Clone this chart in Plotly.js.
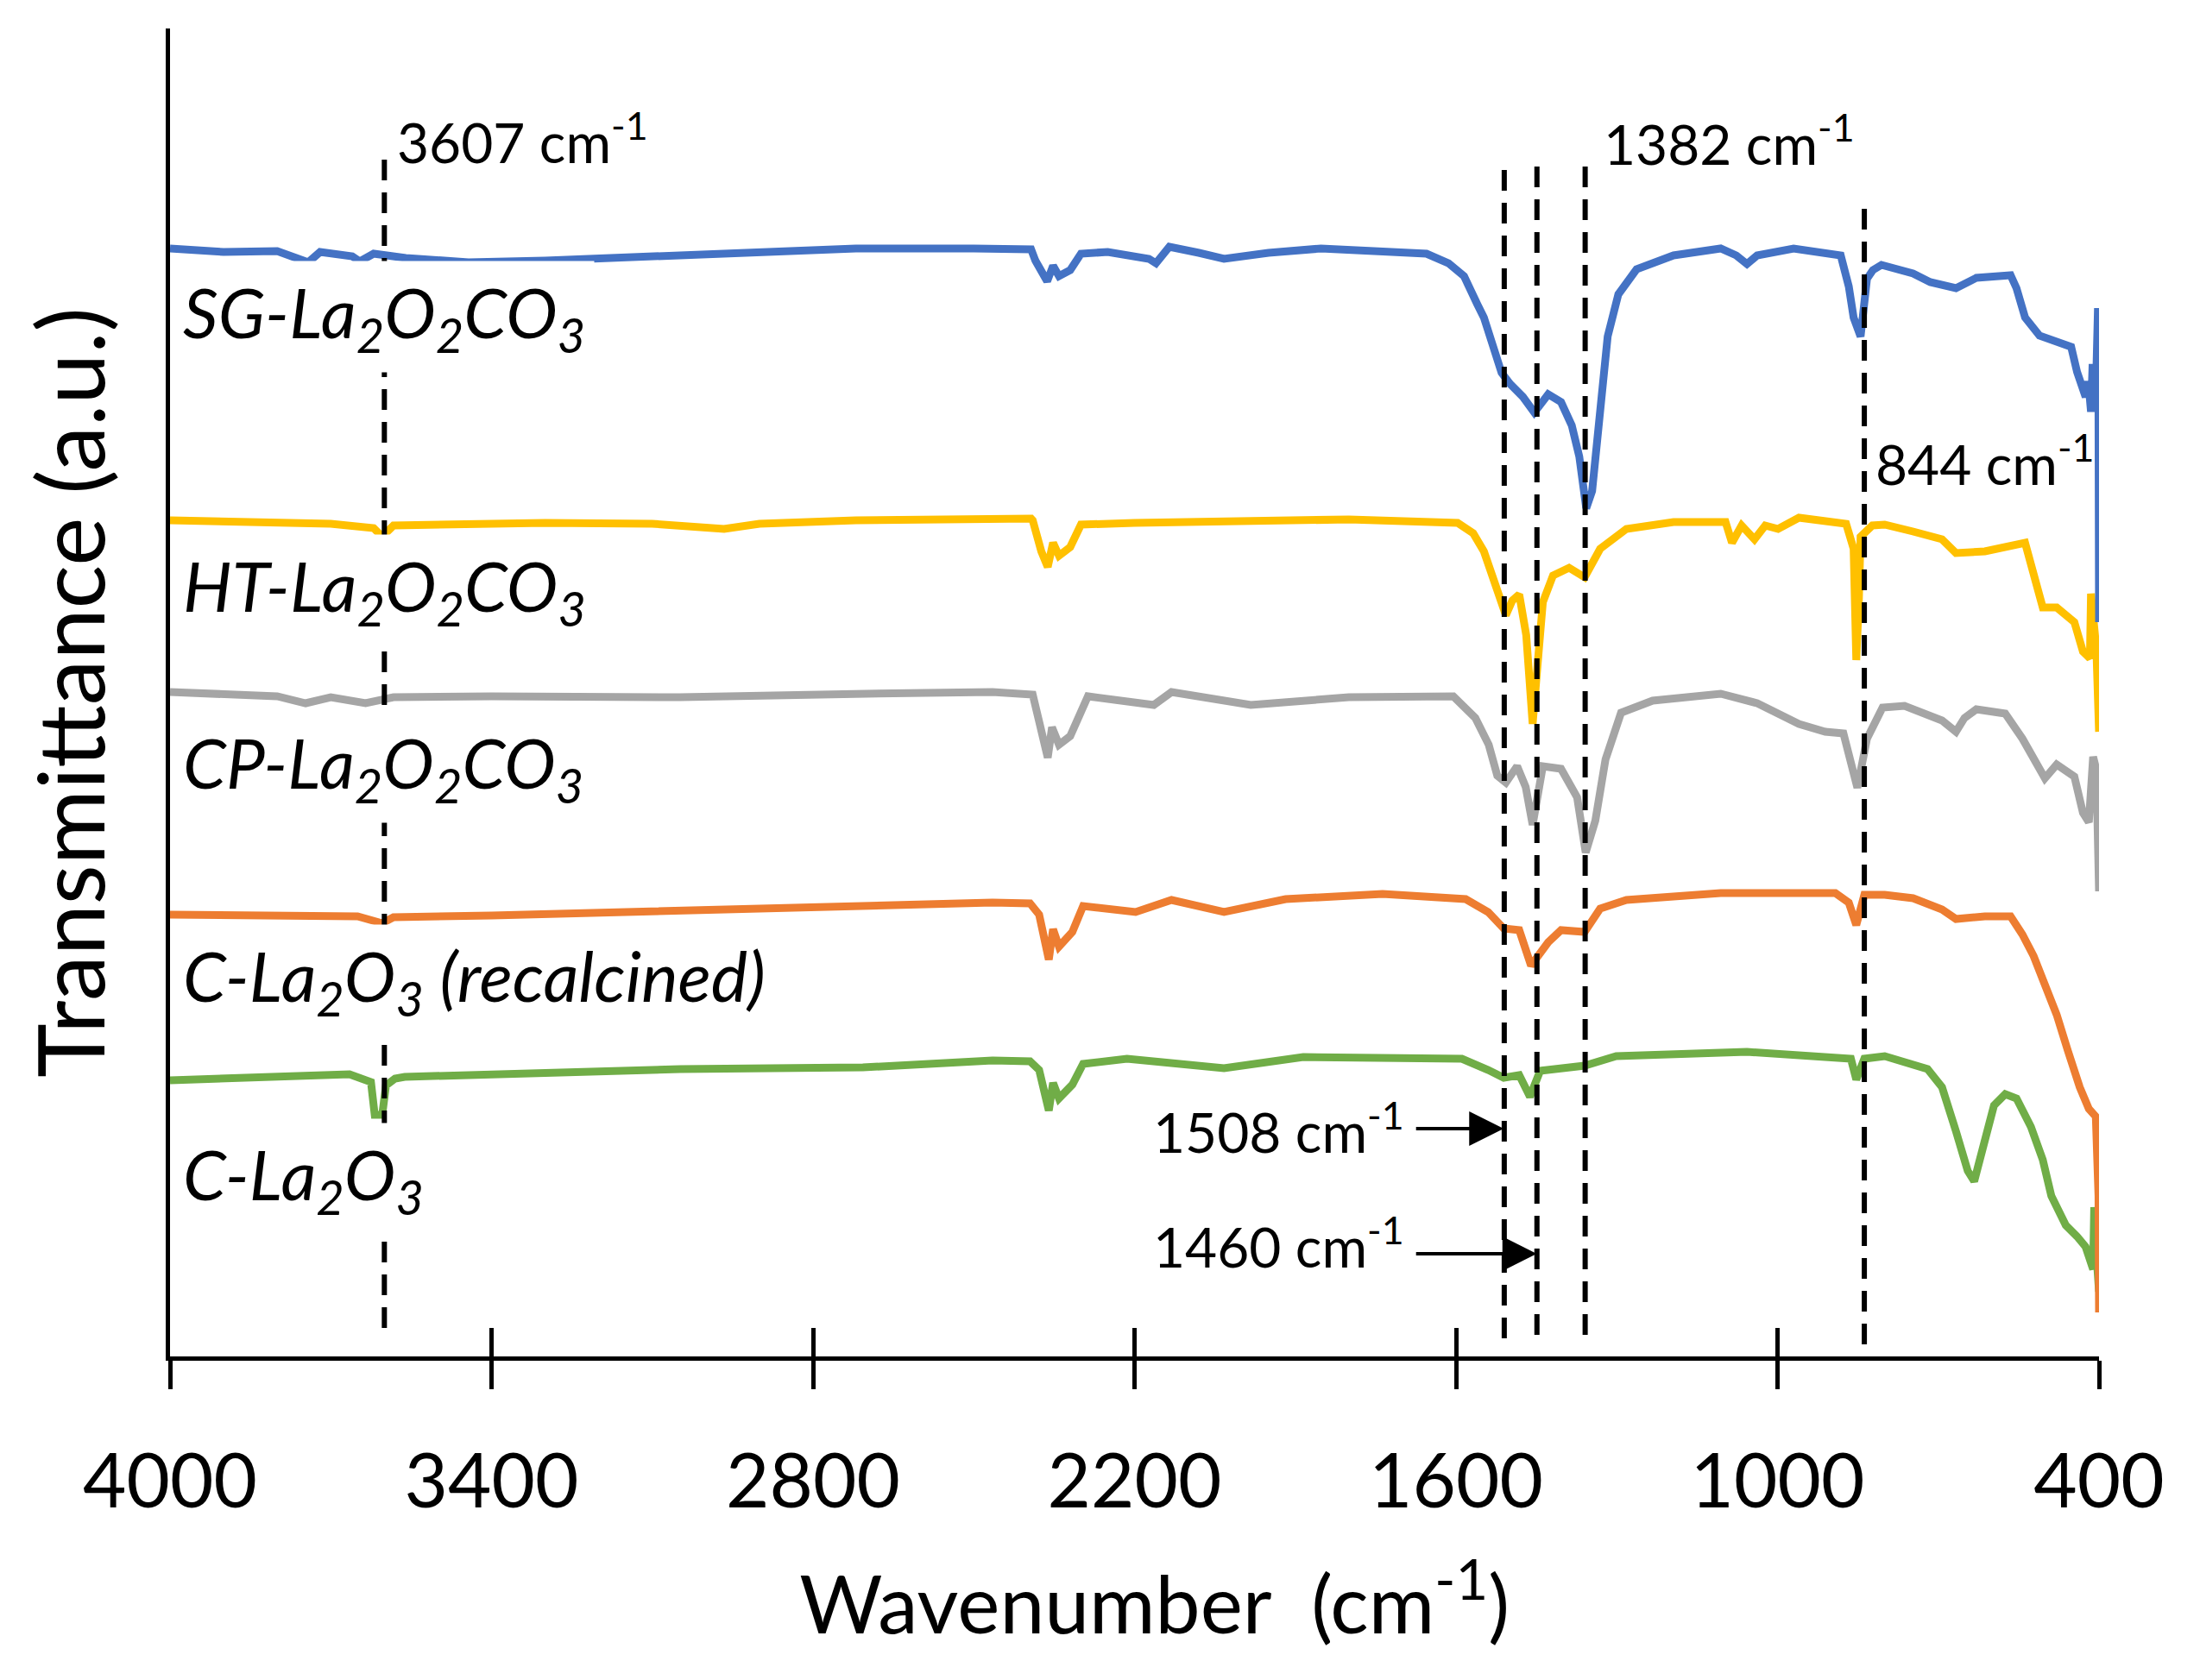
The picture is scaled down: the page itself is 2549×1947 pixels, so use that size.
<!DOCTYPE html>
<html>
<head>
<meta charset="utf-8">
<script src="https://cdn.plot.ly/plotly-3.0.1.min.js"></script>
<style>
  html, body { margin: 0; padding: 0; background: #fff; }
  #chart { width: 2549px; height: 1947px; }
</style>
</head>
<body>
<div id="chart"></div>
<script>
// FTIR spectra, transmittance in arbitrary units (stacked)

const sgWn = [4000, 3900, 3800, 3742, 3720, 3660, 3646, 3620, 3560, 3443, 3300, 3100, 2900, 2720, 2500, 2393, 2385, 2363, 2352, 2341, 2320, 2300, 2250, 2173, 2160, 2135, 2080, 2033, 1950, 1852, 1720, 1655, 1614, 1585, 1560, 1548, 1532, 1515, 1499, 1475, 1454, 1440, 1428, 1404, 1384, 1370, 1357, 1346, 1331, 1317, 1297, 1263, 1194, 1106, 1077, 1057, 1038, 970, 882, 867, 858, 845, 833, 822, 806, 747, 715, 667, 629, 565, 554, 538, 511, 479, 452, 441, 425, 420, 415, 412, 408, 405, 402, 401, 400];
const sgT  = [128.4, 128.0, 128.1, 126.8, 128.0, 127.5, 126.9, 127.8, 127.3, 126.8, 127.0, 127.5, 128.0, 128.4, 128.4, 128.3, 127.0, 124.6, 126.4, 125.2, 125.9, 127.8, 128.0, 127.2, 126.7, 128.6, 127.9, 127.2, 127.9, 128.4, 128.0, 127.8, 126.7, 125.2, 121.9, 120.4, 117.3, 114.0, 112.7, 111.2, 109.4, 110.5, 111.5, 110.6, 107.9, 104.3, 98.3, 100.3, 109.3, 118.2, 123.1, 126.0, 127.6, 128.4, 127.6, 126.6, 127.6, 128.4, 127.6, 124.0, 120.4, 118.2, 124.9, 125.9, 126.5, 125.5, 124.5, 123.8, 125.0, 125.3, 123.8, 120.4, 118.3, 117.5, 117.0, 114.1, 111.2, 113.0, 109.5, 115.0, 110.0, 114.0, 121.5, 110.0, 85.1];

const htWn = [4000, 3900, 3800, 3700, 3620, 3604, 3583, 3500, 3300, 3100, 2966, 2900, 2720, 2393, 2390, 2374, 2362, 2352, 2341, 2320, 2300, 2200, 2000, 1800, 1597, 1568, 1548, 1532, 1515, 1507, 1495, 1482, 1469, 1457, 1448, 1438, 1419, 1389, 1360, 1331, 1282, 1194, 1097, 1085, 1067, 1043, 1023, 999, 960, 872, 858, 853, 848, 845, 823, 800, 747, 693, 667, 613, 538, 522, 505, 479, 446, 430, 417, 415, 410, 405, 400];
const htT  = [96.9, 96.8, 96.6, 96.5, 96.0, 95.0, 96.3, 96.4, 96.6, 96.5, 95.9, 96.5, 96.9, 97.1, 96.9, 93.3, 91.5, 94.3, 92.8, 93.8, 96.4, 96.6, 96.9, 97.0, 96.6, 95.4, 93.3, 90.3, 86.7, 85.9, 87.6, 88.3, 83.6, 73.3, 80.0, 87.4, 90.5, 91.4, 90.3, 93.6, 95.9, 96.7, 96.7, 94.3, 96.3, 94.7, 96.3, 95.9, 97.2, 96.5, 93.6, 80.7, 88.0, 95.0, 96.3, 96.4, 95.6, 94.7, 93.1, 93.3, 94.3, 91.0, 86.8, 86.8, 85.1, 81.7, 80.9, 88.4, 84.0, 82.0, 72.4];

const cpWn = [4000, 3900, 3800, 3747, 3700, 3635, 3583, 3400, 3048, 2700, 2465, 2390, 2374, 2362, 2354, 2341, 2320, 2287, 2164, 2131, 1983, 1800, 1605, 1564, 1539, 1523, 1507, 1486, 1470, 1457, 1438, 1404, 1374, 1358, 1340, 1321, 1292, 1233, 1106, 1038, 960, 911, 877, 851, 833, 804, 763, 693, 667, 651, 629, 575, 543, 522, 501, 479, 446, 430, 419, 411, 405, 400];
const cpT  = [77.0, 76.8, 76.5, 75.7, 76.4, 75.7, 76.4, 76.5, 76.4, 76.8, 77.0, 76.7, 72.9, 69.4, 72.9, 70.9, 71.9, 76.5, 75.5, 77.0, 75.5, 76.4, 76.5, 74.0, 70.9, 67.3, 66.5, 68.4, 66.0, 61.6, 68.4, 68.1, 64.8, 58.4, 62.1, 69.2, 74.6, 76.0, 76.8, 75.7, 73.3, 72.4, 72.2, 65.9, 71.6, 75.2, 75.4, 73.7, 72.4, 74.0, 75.0, 74.5, 71.6, 69.1, 67.0, 68.6, 67.2, 63.0, 61.9, 69.5, 68.0, 53.9];

const rcWn = [4000, 3900, 3737, 3650, 3604, 3583, 3400, 3151, 2900, 2707, 2465, 2395, 2378, 2360, 2352, 2341, 2316, 2296, 2198, 2131, 2033, 1918, 1737, 1582, 1540, 1511, 1482, 1460, 1428, 1404, 1360, 1331, 1282, 1106, 892, 867, 853, 838, 800, 747, 693, 667, 613, 565, 543, 522, 501, 479, 458, 436, 419, 406, 401, 400];
const rcT  = [51.2, 51.1, 50.9, 51.0, 50.2, 50.9, 51.1, 51.5, 52.0, 52.2, 52.6, 52.5, 51.2, 46.0, 49.5, 47.5, 49.2, 52.2, 51.5, 52.9, 51.5, 53.0, 53.6, 53.0, 51.5, 49.6, 49.4, 45.3, 48.0, 49.4, 49.2, 51.9, 52.9, 53.7, 53.7, 52.6, 50.0, 53.5, 53.5, 53.1, 51.8, 50.7, 51.0, 51.0, 48.9, 46.4, 43.0, 39.6, 35.4, 31.2, 28.7, 27.8, 18.6, 5.1];

const cWn = [4000, 3800, 3665, 3625, 3618, 3604, 3597, 3580, 3562, 3048, 2707, 2465, 2395, 2378, 2360, 2352, 2341, 2316, 2296, 2214, 2033, 1885, 1589, 1540, 1511, 1482, 1462, 1443, 1360, 1301, 1057, 863, 853, 838, 800, 720, 693, 667, 645, 633, 618, 596, 575, 554, 527, 505, 489, 462, 441, 425, 411, 409, 405, 402, 400];
const cT  = [32.0, 32.3, 32.7, 31.8, 28.0, 28.0, 31.4, 32.2, 32.4, 33.3, 33.5, 34.3, 34.2, 33.2, 28.5, 31.7, 29.9, 31.5, 33.9, 34.5, 33.4, 34.7, 34.5, 33.2, 32.3, 32.6, 30.1, 33.1, 33.7, 34.8, 35.3, 34.5, 32.1, 34.5, 34.8, 33.3, 31.2, 26.1, 21.5, 20.3, 23.6, 29.1, 30.4, 29.9, 26.6, 22.8, 18.6, 15.2, 13.9, 12.7, 10.1, 17.3, 12.0, 9.0, 7.5];

// dashed band markers: position, top, bottom (a.u.)
const bandWn     = [3600, 1510, 1449, 1359, 838];
const bandTop    = [139.8, 138.8, 139.3, 139.3, 133.7];
const bandBottom = [3.3, 2.1, 2.5, 2.5, 1.4];

// band labels
const bandLabelText = ['3607 cm<sup>-1</sup>', '1382 cm<sup>-1</sup>', '844 cm<sup>-1</sup>', '1508 cm<sup>-1</sup>', '1460 cm<sup>-1</sup>'];
const bandLabelX    = [3580, 1327, 821, 1694, 1694];
const bandLabelY    = [141.2, 141.0, 103.9, 26.5, 13.2];
const bandLabelSide = ['left', 'left', 'left', 'right', 'right'];

// arrows from the 1508 / 1460 labels to their lines
const arrowFromWn = [1677, 1677];
const arrowToWn   = [1511, 1449];
const arrowY      = [26.4, 11.9];

// sample names, placed under each trace
const sampleNames = [
  'SG-La<sub>2</sub>O<sub>2</sub>CO<sub>3</sub>',
  'HT-La<sub>2</sub>O<sub>2</sub>CO<sub>3</sub>',
  'CP-La<sub>2</sub>O<sub>2</sub>CO<sub>3</sub>',
  'C-La<sub>2</sub>O<sub>3</sub> (recalcined)',
  'C-La<sub>2</sub>O<sub>3</sub>'
];
const sampleLabelY = [120.5, 88.8, 68.3, 43.6, 20.6];

const xTicks = [4000, 3400, 2800, 2200, 1600, 1000, 400];

const FONT = 'Lato, "Open Sans", "Noto Sans", sans-serif';

function spectrum(x, y, color) {
  return {
    type: 'scatter', mode: 'lines', x, y,
    line: { color, width: 9 },
    hoverinfo: 'skip', showlegend: false
  };
}

// vertical dashed lines, null-separated into one trace
const dashX = [], dashY = [];
for (let i = 0; i < bandWn.length; i++) {
  dashX.push(bandWn[i], bandWn[i], null);
  dashY.push(bandBottom[i], bandTop[i], null);
}

const traces = [
  spectrum(cWn, cT, '#70AD47'),
  spectrum(rcWn, rcT, '#ED7D31'),
  spectrum(cpWn, cpT, '#A5A5A5'),
  spectrum(htWn, htT, '#FFC000'),
  spectrum(sgWn, sgT, '#4472C4'),
  {
    type: 'scatter', mode: 'lines', x: dashX, y: dashY,
    xaxis: 'x2', yaxis: 'y',
    line: { color: '#000', width: 6, dash: '24px,14px' },
    hoverinfo: 'skip', showlegend: false
  }
];

const annotations = [];
sampleNames.forEach((name, i) => {
  annotations.push({
    xref: 'x', yref: 'y', x: 3993, y: sampleLabelY[i],
    xanchor: 'left', yanchor: 'middle',
    text: '<i>' + name + '</i>', showarrow: false,
    bgcolor: '#fff', borderpad: 10,
    font: { family: FONT, size: 80, color: '#000' }
  });
});
bandLabelText.forEach((t, i) => {
  annotations.push({
    xref: 'x', yref: 'y', x: bandLabelX[i], y: bandLabelY[i],
    xanchor: bandLabelSide[i], yanchor: 'middle',
    text: t, showarrow: false,
    font: { family: FONT, size: 64, color: '#000' }
  });
});
arrowToWn.forEach((wn, i) => {
  annotations.push({
    xref: 'x', yref: 'y', axref: 'x', ayref: 'y',
    x: wn, y: arrowY[i], ax: arrowFromWn[i], ay: arrowY[i],
    text: '', showarrow: true,
    arrowhead: 2, arrowsize: 2, arrowwidth: 4, arrowcolor: '#000', standoff: 0
  });
});

const layout = {
  width: 2549, height: 1947,
  paper_bgcolor: '#fff', plot_bgcolor: '#fff',
  font: { family: FONT, color: '#000' },
  margin: { l: 197, r: 117, t: 33, b: 375 },
  showlegend: false,
  xaxis: {
    range: [4000, 400], tickvals: xTicks, ticktext: xTicks.map(String),
    ticks: 'outside', ticklen: 33, tickwidth: 5, tickcolor: '#000',
    ticklabelstandoff: 33,
    showline: true, linewidth: 5, linecolor: '#000',
    showgrid: false, zeroline: false,
    tickfont: { family: FONT, size: 87, color: '#000' },
    title: { text: '&nbsp;&nbsp;Wavenumber  (cm<sup>-1</sup>)', font: { family: FONT, size: 93, color: '#000' }, standoff: 64 }
  },
  xaxis2: {
    overlaying: 'x', side: 'bottom',
    range: [4000, 400], tickvals: xTicks,
    ticks: 'inside', ticklen: 33, tickwidth: 5, tickcolor: '#000',
    showticklabels: false, showline: false, showgrid: false, zeroline: false
  },
  yaxis: {
    range: [0, 153.9],
    showline: true, linewidth: 5, linecolor: '#000',
    ticks: '', showticklabels: false, showgrid: false, zeroline: false,
    title: { text: 'Transmittance (a.u.)', font: { family: FONT, size: 106, color: '#000' }, standoff: 36 }
  },
  annotations
};

Plotly.newPlot('chart', traces, layout, { displayModeBar: false, staticPlot: true });
</script>
</body>
</html>
